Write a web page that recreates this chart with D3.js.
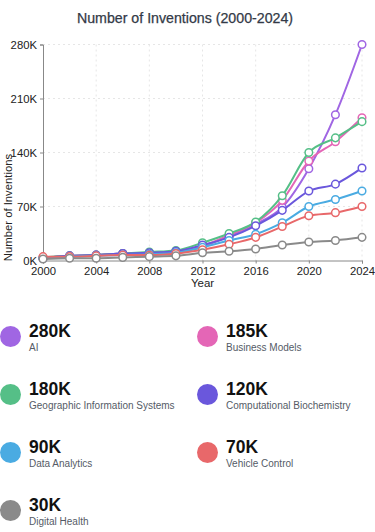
<!DOCTYPE html>
<html>
<head>
<meta charset="utf-8">
<script src="https://cdn.jsdelivr.net/npm/d3@7"></script>
<style>
  html, body { margin: 0; padding: 0; background: #fff; }
  svg { display: block; font-family: "Liberation Sans", Arial, sans-serif; }
</style>
</head>
<body>
<svg id="chart" width="375" height="532"></svg>
<script>
const years = [2000, 2002, 2004, 2006, 2008, 2010, 2012, 2014, 2016, 2018, 2020, 2022, 2024];
const seriesNames = ["AI", "Business Models", "Geographic Information Systems", "Computational Biochemistry", "Data Analytics", "Vehicle Control", "Digital Health"];
const aiValues = [3, 6, 7, 9, 10, 12, 18, 32, 47, 69, 119, 189, 280];
const businessValues = [3, 6, 7, 9, 10, 12, 19, 33, 49, 78, 129, 154, 185];
const gisValues = [4, 6, 7, 9, 11, 13, 23, 35, 50, 84, 140, 159, 180];
const biochemValues = [3, 6, 7, 9, 10, 12, 20, 30, 45, 65, 90, 99, 120];
const analyticsValues = [3, 5, 6, 7, 8, 10, 17, 26, 34, 49, 70, 79, 90];
const vehicleValues = [5, 5, 6, 7, 7, 9, 14, 21, 30, 44, 58, 62, 70];
const healthValues = [2, 3, 3, 4, 5, 6, 10, 12, 15, 20, 24, 26, 30];
const seriesColors = ["#a066e3", "#e466b6", "#55bf87", "#6a57dc", "#4aabe2", "#e8686a", "#8a8a8a"];
const yTicks = [0, 70, 140, 210, 280];
const xTicks = [2000, 2004, 2008, 2012, 2016, 2020, 2024];
const legendValues = ["280K", "185K", "180K", "120K", "90K", "70K", "30K"];

const allValues = [aiValues, businessValues, gisValues, biochemValues, analyticsValues, vehicleValues, healthValues];
const series = seriesNames.map((name, i) => ({
  name, color: seriesColors[i], label: legendValues[i],
  points: years.map((y, j) => ({ year: y, value: allValues[i][j] }))
}));

const svg = d3.select("#chart");
const x = d3.scaleLinear().domain([2000, 2024]).range([43, 362]);
const y = d3.scaleLinear().domain([0, 280]).range([260.5, 44.5]);

// title
svg.append("text").attr("x", 185).attr("y", 22.5).attr("text-anchor", "middle")
  .attr("font-size", 14.2).attr("font-weight", 500).attr("fill", "#333a47")
  .attr("stroke", "#333a47").attr("stroke-width", 0.25)
  .text("Number of Inventions (2000-2024)");

// grid
const grid = svg.append("g");
grid.selectAll(".hg").data(yTicks.filter(d => d > 0)).join("line")
  .attr("x1", 43).attr("x2", 362).attr("y1", d => y(d)).attr("y2", d => y(d))
  .attr("stroke", "#e6e6e6").attr("stroke-dasharray", "2,3").attr("stroke-width", 1);
grid.selectAll(".vg").data(xTicks.filter(d => d > 2000)).join("line")
  .attr("y1", 44.5).attr("y2", 260.5).attr("x1", d => x(d)).attr("x2", d => x(d))
  .attr("stroke", "#e6e6e6").attr("stroke-dasharray", "2,3").attr("stroke-width", 1);

// axes
const xAxis = svg.append("g").attr("transform", "translate(0,260.5)")
  .call(d3.axisBottom(x).tickValues(xTicks).tickFormat(d3.format("d")).tickSize(3));
const yAxis = svg.append("g").attr("transform", "translate(43,0)")
  .call(d3.axisLeft(y).tickValues(yTicks).tickFormat(d => d + "K").tickSize(3));
[xAxis, yAxis].forEach(a => {
  a.selectAll("path, line").attr("stroke", "#888");
  a.selectAll("text").attr("font-size", 11.3).attr("fill", "#222")
    .attr("font-family", "'Liberation Sans', Arial, sans-serif");
});

svg.append("text").attr("x", 202.5).attr("y", 286.5).attr("text-anchor", "middle")
  .attr("font-size", 11.5).attr("fill", "#222").text("Year");
svg.append("text").attr("transform", "translate(11.5,207.5) rotate(-90)").attr("text-anchor", "middle")
  .attr("font-size", 11.3).attr("fill", "#222").text("Number of Inventions");

// lines
const line = d3.line().x(d => x(d.year)).y(d => y(d.value)).curve(d3.curveMonotoneX);
const sg = svg.append("g").selectAll("g").data(series).join("g");
sg.append("path").attr("d", d => line(d.points)).attr("fill", "none")
  .attr("stroke", d => d.color).attr("stroke-width", 2);
sg.selectAll("circle").data(d => d.points.map(p => ({ ...p, color: d.color }))).join("circle")
  .attr("cx", d => x(d.year)).attr("cy", d => y(d.value)).attr("r", 3.8)
  .attr("fill", "#fff").attr("stroke", d => d.color).attr("stroke-width", 1.5);

// legend
const lg = svg.append("g").selectAll("g").data(series).join("g")
  .attr("transform", (d, i) => `translate(${(i % 2) * 197},${336.5 + Math.floor(i / 2) * 58})`);
lg.append("circle").attr("cx", 10.5).attr("cy", 0).attr("r", 10.5).attr("fill", d => d.color);
lg.append("text").attr("x", 29).attr("y", 0.5).attr("font-size", 17.5).attr("font-weight", 700)
  .attr("fill", "#111").text(d => d.label);
lg.append("text").attr("x", 29).attr("y", 14.5).attr("font-size", 10)
  .attr("fill", "#555b66").text(d => d.name);
</script>
</body>
</html>
